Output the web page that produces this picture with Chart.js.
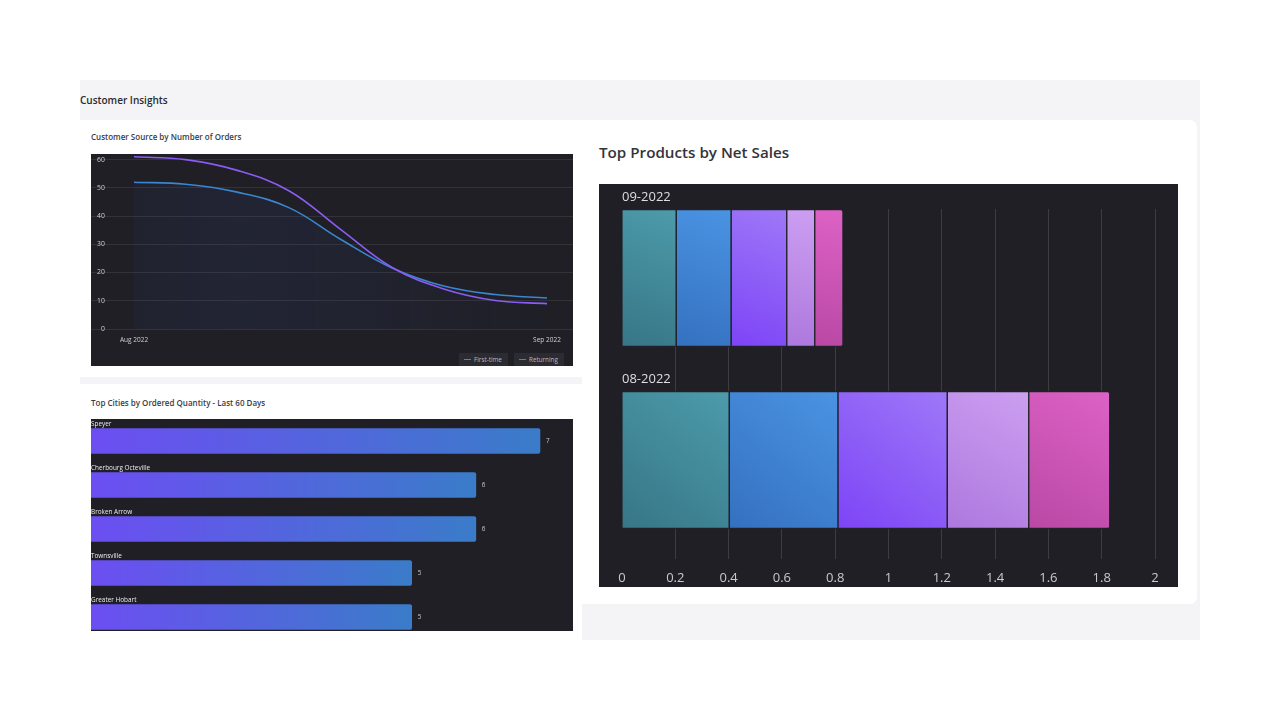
<!DOCTYPE html>
<html>
<head>
<meta charset="utf-8">
<script src="https://cdn.jsdelivr.net/npm/chart.js@4.4.0/dist/chart.umd.min.js"></script>
<style>
html,body{margin:0;padding:0;background:#ffffff;width:1280px;height:720px;overflow:hidden;font-family:"Open Sans","Noto Sans",sans-serif;}
.abs{position:absolute;}
#dash{left:80px;top:80px;width:1120px;height:560px;background:#f4f4f6;overflow:hidden;}
.card{background:#ffffff;}
.dark{background:#1f1f25;overflow:hidden;}
.t-main{font-size:10px;font-weight:600;color:#2a2a2e;line-height:14px;white-space:nowrap;}
.t-small{font-size:8px;font-weight:600;color:#3c3c44;line-height:10px;white-space:nowrap;}
.t-big{font-size:15.2px;font-weight:600;color:#33343a;line-height:20px;white-space:nowrap;}
.leg{background:#2b2b32;height:13px;display:flex;align-items:center;font-size:6.3px;color:#b9b9c2;white-space:nowrap;}
.leg i{display:inline-block;width:7px;height:1.5px;margin:0 3px 0 5px;}
canvas{display:block;}
</style>
</head>
<body>
<div id="dash" class="abs">
  <div class="abs t-main" style="left:0;top:13px;">Customer Insights</div>

  <div class="abs card" style="left:0;top:40px;width:502px;height:257px;"></div>
  <div class="abs t-small" style="left:11px;top:52px;">Customer Source by Number of Orders</div>
  <div class="abs dark" style="left:11px;top:74px;width:482px;height:212px;">
    <canvas id="lineChart" width="482" height="212"></canvas>
    <div class="abs leg" style="left:368px;top:199px;width:49px;"><i style="background:#8b5cf6"></i>First-time</div>
    <div class="abs leg" style="left:423px;top:199px;width:50px;"><i style="background:#3a86d0"></i>Returning</div>
  </div>

  <div class="abs card" style="left:0;top:304px;width:502px;height:300px;"></div>
  <div class="abs t-small" style="left:11px;top:318px;">Top Cities by Ordered Quantity - Last 60 Days</div>
  <div class="abs dark" style="left:11px;top:339px;width:482px;height:212px;">
    <canvas id="cityChart" width="482" height="220"></canvas>
  </div>

  <div class="abs card" style="left:502px;top:40px;width:615px;height:484px;border-radius:0 7px 7px 0;"></div>
  <div class="abs t-big" style="left:519px;top:62px;">Top Products by Net Sales</div>
  <div class="abs dark" style="left:519px;top:104px;width:579px;height:403px;">
    <canvas id="prodChart" width="579" height="403"></canvas>
  </div>
</div>

<script>
// ---------- Customer Source by Number of Orders ----------
const sampleLabels = ['Aug 2022', '', '', '', '', '', '', '', 'Sep 2022'];
const firstTime = [61, 60, 56.2, 49, 35.3, 21.8, 14.2, 10.1, 9];
const returning = [52, 51.3, 48.5, 43, 31.8, 21.6, 15.2, 12.2, 11];
const orderTicks = [0, 10, 20, 30, 40, 50, 60];

// ---------- Top Cities by Ordered Quantity ----------
const cities = ['Speyer', 'Cherbourg Octeville', 'Broken Arrow', 'Townsville', 'Greater Hobart'];
const cityQty = [7, 6, 6, 5, 5];

// ---------- Top Products by Net Sales ----------
const months = ['09-2022', '08-2022'];
const productNames = ['Product 1', 'Product 2', 'Product 3', 'Product 4', 'Product 5'];
const product1 = [0.205, 0.404];
const product2 = [0.206, 0.408];
const product3 = [0.209, 0.410];
const product4 = [0.105, 0.306];
const product5 = [0.106, 0.304];
const salesTicks = [0, 0.2, 0.4, 0.6, 0.8, 1, 1.2, 1.4, 1.6, 1.8, 2];

const productSeries = [product1, product2, product3, product4, product5];
const prodColors = [
  ['#377686', '#4c9bab'],
  ['#3570c0', '#4a94e3'],
  ['#7d44f6', '#9e78f8'],
  ['#ad78de', '#cc9ff1'],
  ['#b948a4', '#dd62c6']
];

const FONT = '"Open Sans","Noto Sans",sans-serif';
Chart.defaults.font.family = FONT;
Chart.defaults.animation = false;

// ----- line chart -----
const tickIdx = sampleLabels.map((l, i) => l ? i : -1).filter(i => i >= 0);
new Chart(document.getElementById('lineChart'), {
  type: 'line',
  data: {
    datasets: [
      {
        label: 'First-time',
        data: firstTime.map((v, i) => ({x: i, y: v})),
        borderColor: '#8b5cf6',
        borderWidth: 1.6,
        pointRadius: 0,
        tension: 0.4,
        fill: false
      },
      {
        label: 'Returning',
        data: returning.map((v, i) => ({x: i, y: v})),
        borderColor: '#3a86d0',
        borderWidth: 1.6,
        pointRadius: 0,
        tension: 0.4,
        fill: 'origin',
        backgroundColor: (c) => {
          const ca = c.chart.chartArea;
          if (!ca) return 'rgba(60,80,170,0.08)';
          const g = c.chart.ctx.createLinearGradient(ca.left, 0, ca.right, 0);
          g.addColorStop(0, 'rgba(60,80,170,0.05)');
          g.addColorStop(0.3, 'rgba(60,80,170,0.12)');
          g.addColorStop(0.7, 'rgba(60,80,170,0.06)');
          g.addColorStop(1, 'rgba(60,80,170,0.0)');
          return g;
        }
      }
    ]
  },
  options: {
    responsive: false,
    layout: {padding: {left: 0, right: 0, top: 0, bottom: 21.6}},
    plugins: {legend: {display: false}, tooltip: {enabled: false}},
    scales: {
      x: {
        type: 'linear', min: -0.833, max: 8.504,
        grid: {display: false, drawTicks: false}, border: {display: false},
        afterBuildTicks: (s) => { s.ticks = tickIdx.map(v => ({value: v})); },
        afterFit: (s) => { s.height = 15.4; },
        ticks: {font: {size: 6.5}, color: '#d0d0d8', padding: 7, maxRotation: 0,
          callback: (v) => sampleLabels[v] || ''}
      },
      y: {
        min: 0, max: 62,
        grid: {color: 'rgba(255,255,255,0.085)', drawTicks: false, lineWidth: 1},
        border: {display: false},
        afterBuildTicks: (s) => { s.ticks = orderTicks.map(v => ({value: v})); },
        afterFit: (s) => { s.width = 0; s.paddingTop = 0; s.paddingBottom = 0; },
        ticks: {mirror: true, crossAlign: 'far', padding: 6, font: {size: 6.8}, color: '#d0d0d8'}
      }
    }
  }
});

// ----- city chart -----
const cityLabelPlugin = {
  id: 'cityLabels',
  afterDatasetsDraw(chart) {
    const ctx = chart.ctx;
    const meta = chart.getDatasetMeta(0);
    ctx.save();
    ctx.font = '6.4px ' + FONT;
    ctx.textBaseline = 'middle';
    meta.data.forEach((el, i) => {
      ctx.fillStyle = '#ececf0';
      ctx.textAlign = 'left';
      ctx.fillText(cities[i], chart.chartArea.left, el.y - el.height / 2 - 4.5);
      ctx.fillStyle = '#c8c8d0';
      ctx.fillText(String(cityQty[i]), el.x + 6, el.y);
    });
    ctx.restore();
  }
};
new Chart(document.getElementById('cityChart'), {
  type: 'bar',
  data: {
    labels: cities,
    datasets: [{
      label: 'Ordered Quantity',
      data: cityQty,
      barThickness: 25,
      borderRadius: 2,
      borderSkipped: 'start',
      backgroundColor: (c) => {
        const chart = c.chart;
        const xs = chart.scales.x;
        if (!chart.chartArea || c.dataIndex === undefined || !xs) return '#5a5ee0';
        const l = xs.getPixelForValue(0), r = xs.getPixelForValue(cityQty[c.dataIndex]);
        const g = chart.ctx.createLinearGradient(l, 0, r, 0);
        g.addColorStop(0, '#6c4ef2');
        g.addColorStop(1, '#3a7cc9');
        return g;
      }
    }]
  },
  options: {
    responsive: false,
    indexAxis: 'y',
    layout: {padding: 0},
    plugins: {legend: {display: false}, tooltip: {enabled: false}},
    scales: {
      x: {type: 'linear', min: 0, max: 7.515, display: false},
      y: {display: false}
    }
  },
  plugins: [cityLabelPlugin]
});

// ----- products chart -----
const BAR_T = 138;
const monthLabelPlugin = {
  id: 'monthLabels',
  afterDatasetsDraw(chart) {
    const ctx = chart.ctx;
    const xs = chart.scales.x, ys = chart.scales.y;
    ctx.save();
    ctx.font = '13px ' + FONT;
    ctx.fillStyle = '#dedee6';
    ctx.textBaseline = 'middle';
    ctx.textAlign = 'left';
    months.forEach((m, i) => {
      ctx.fillText(m, xs.getPixelForValue(0), ys.getPixelForValue(i) - BAR_T / 2 - 12);
    });
    ctx.restore();
  }
};
new Chart(document.getElementById('prodChart'), {
  type: 'bar',
  data: {
    datasets: productSeries.map((arr, k) => ({
      label: productNames[k],
      data: arr.map((v, i) => ({x: v, y: i})),
      barThickness: BAR_T,
      borderWidth: 1.5,
      borderColor: 'rgba(34,34,42,0.95)',
      borderSkipped: 'start',
      borderRadius: k === productSeries.length - 1 ? 3 : 0,
      backgroundColor: (c) => {
        const chart = c.chart;
        const xs = chart.scales.x, ys = chart.scales.y;
        if (!chart.chartArea || c.dataIndex === undefined || !xs || !ys) return prodColors[k][1];
        let start = 0;
        for (let j = 0; j < k; j++) start += productSeries[j][c.dataIndex];
        const l = xs.getPixelForValue(start);
        const r = xs.getPixelForValue(start + arr[c.dataIndex]);
        const cy = ys.getPixelForValue(c.dataIndex);
        const g = chart.ctx.createLinearGradient(l, cy + BAR_T / 2, r, cy - BAR_T / 2);
        g.addColorStop(0, prodColors[k][0]);
        g.addColorStop(1, prodColors[k][1]);
        return g;
      }
    }))
  },
  options: {
    responsive: false,
    indexAxis: 'y',
    layout: {padding: {left: 23, right: 23, top: 25, bottom: 1.4}},
    plugins: {legend: {display: false}, tooltip: {enabled: false}},
    scales: {
      x: {
        type: 'linear', min: 0, max: 2, stacked: true, offset: false,
        afterBuildTicks: (s) => { s.ticks = salesTicks.map(v => ({value: v})); },
        afterFit: (s) => { s.height = 26.6; },
        grid: {
          drawTicks: false, lineWidth: 1, offset: false,
          color: (c) => (c.tick && c.tick.value === 0) ? 'rgba(0,0,0,0)' : 'rgba(255,255,255,0.13)'
        },
        border: {display: false},
        ticks: {font: {size: 13}, color: '#c9c9d2', padding: 11, maxRotation: 0,
          callback: (v) => String(Math.round(v * 10) / 10)}
      },
      y: {
        type: 'linear', reverse: true, min: -0.3791, max: 1.544, display: false, stacked: true,
        offset: false, grid: {offset: false}
      }
    }
  },
  plugins: [monthLabelPlugin]
});
</script>
</body>
</html>
